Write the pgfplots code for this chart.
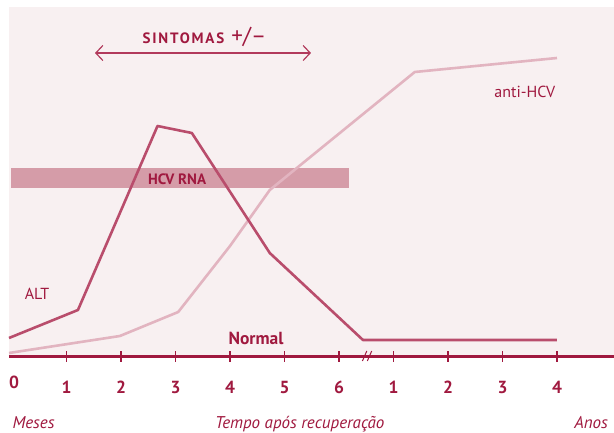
\documentclass[border=0pt]{standalone}
\usepackage{fontspec}
\setmainfont{PT Sans}
\usepackage{pgfplots}
\pgfplotsset{compat=1.18}
\usetikzlibrary{arrows.meta}
\definecolor{bg}{HTML}{F8F0F1}
\definecolor{darkred}{HTML}{A0193F}
\definecolor{altc}{HTML}{B94D6C}
\definecolor{antic}{HTML}{E2B4C0}
\definecolor{barc}{HTML}{D59CA8}
\definecolor{arrc}{HTML}{B23A5C}
\begin{document}
\begin{tikzpicture}
\path[use as bounding box] (0,0) rectangle (614pt,432pt);
\begin{axis}[
  at={(9pt,76pt)}, anchor=south west,
  scale only axis, width=605pt, height=349pt,
  xmin=-0.055, xmax=11.046, ymin=0, ymax=349,
  clip=false,
  axis background/.style={fill=bg},
  hide y axis,
  axis x line*=bottom,
  x axis line style={darkred, line width=3pt, -},
  xtick={1,...,10},
  xticklabels={1,2,3,4,5,6,1,2,3,4},
  extra x ticks={0},
  extra x tick labels={0},
  extra x tick style={major tick length=0pt, xticklabel style={xshift=2pt}},
  major tick length=11pt,
  tick align=center,
  x tick style={darkred, line width=1.4pt},
  xticklabel style={anchor=base, yshift=-32pt, text=darkred, font=\fontsize{17.5}{20}\selectfont\bfseries},
]
% HCV RNA bar
\addplot[fill=barc, draw=none] coordinates {(-0.02,168) (6.18,168) (6.18,188) (-0.02,188)} -- cycle;
% anti-HCV
\addplot[antic, line width=2.6pt, line join=round] coordinates {
  (-0.055,3) (1.98,20) (3.05,44) (4.0,110) (4.73,166) (7.39,284) (10,298)};
% ALT
\addplot[altc, line width=2.6pt, line join=round] coordinates {
  (-0.055,18) (1.21,46) (2.67,230) (3.30,223) (4.73,103) (6.44,16) (10,16)};
% symptoms arrow
\draw[{Straight Barb[length=7pt,width=15pt]}-{Straight Barb[length=7pt,width=15pt]}, arrc, line width=1.2pt]
  (axis cs:1.523,303) -- (axis cs:5.486,303);
\node[text=darkred, font=\bfseries] at (axis cs:3.53,319)
  {{\fontsize{15}{18}\selectfont\addfontfeature{LetterSpace=12}SINTOMAS}\hspace{7pt}{\fontsize{23}{24}\selectfont\mdseries +/–}};
\node[text=darkred, font=\fontsize{15}{18}\selectfont\bfseries] at (axis cs:3.03,177) {HCV RNA};
\node[text=darkred, font=\fontsize{17.5}{20}\selectfont\bfseries] at (axis cs:4.477,18) {Normal};
\node[text=darkred, font=\fontsize{16}{19}\selectfont] at (axis cs:0.46,62) {ALT};
\node[text=darkred, font=\fontsize{16}{19}\selectfont] at (axis cs:9.41,264) {anti-HCV};
% break marker
\draw[darkred, line width=1pt] (axis cs:6.43,-5) -- (axis cs:6.51,5);
\draw[darkred, line width=1pt] (axis cs:6.52,-5) -- (axis cs:6.60,5);
% bottom labels
\node[text=darkred, anchor=base west, font=\fontsize{17}{20}\selectfont\itshape] at (axis cs:-0.055,-72) {Meses};
\node[text=darkred, anchor=base, font=\fontsize{17}{20}\selectfont\itshape] at (axis cs:5.28,-72) {Tempo após recuperação};
\node[text=darkred, anchor=base east, font=\fontsize{17}{20}\selectfont\itshape] at (axis cs:11.0,-72) {Anos};
\end{axis}
\end{tikzpicture}
\end{document}
